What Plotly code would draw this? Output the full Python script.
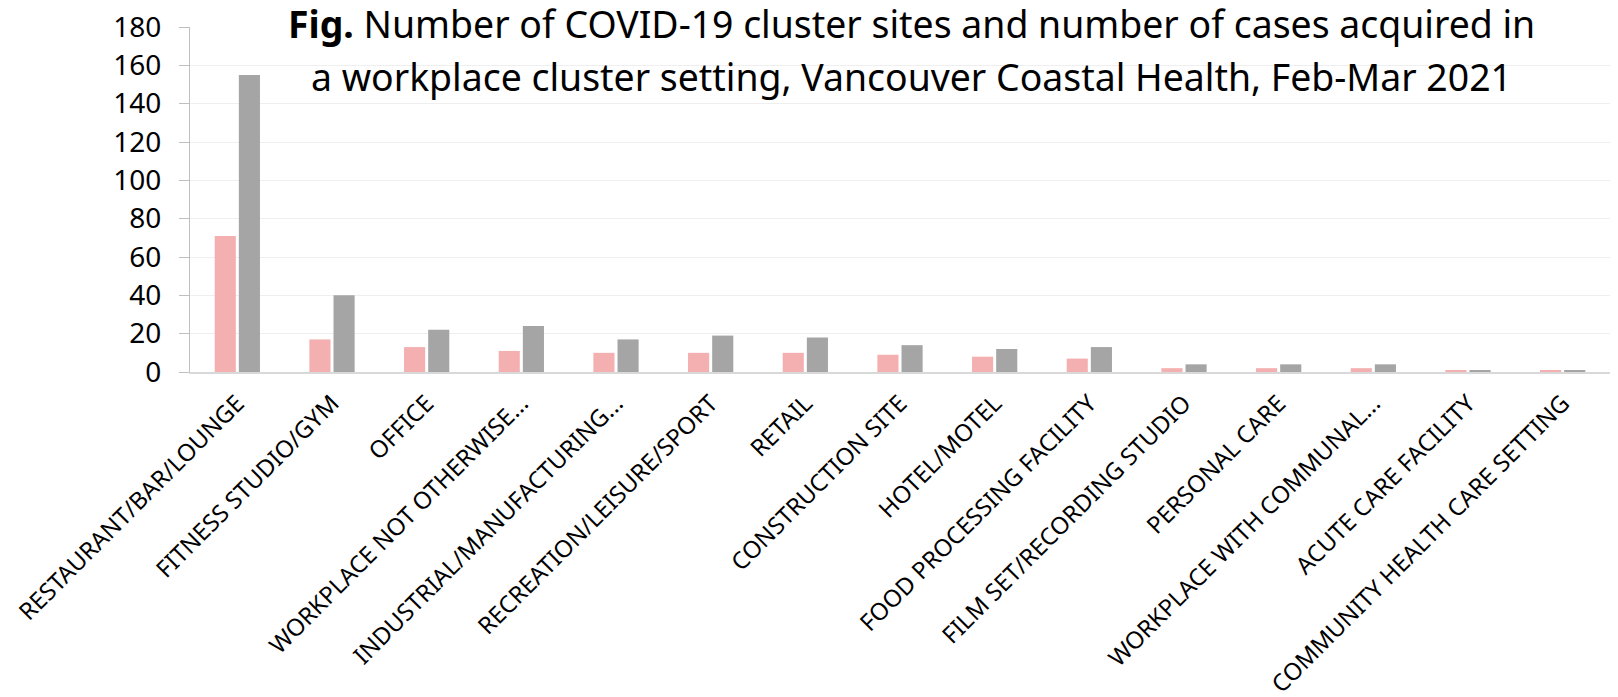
import plotly.graph_objects as go

categories = [
    "RESTAURANT/BAR/LOUNGE", "FITNESS STUDIO/GYM", "OFFICE", "WORKPLACE NOT OTHERWISE...",
    "INDUSTRIAL/MANUFACTURING...", "RECREATION/LEISURE/SPORT", "RETAIL", "CONSTRUCTION SITE",
    "HOTEL/MOTEL", "FOOD PROCESSING FACILITY", "FILM SET/RECORDING STUDIO", "PERSONAL CARE",
    "WORKPLACE WITH COMMUNAL...", "ACUTE CARE FACILITY", "COMMUNITY HEALTH CARE SETTING",
]
cluster_sites = [71, 17, 13, 11, 10, 10, 10, 9, 8, 7, 2, 2, 2, 1, 1]
cases = [155, 40, 22, 24, 17, 19, 18, 14, 12, 13, 4, 4, 4, 1, 1]
y_ticks = [0, 20, 40, 60, 80, 100, 120, 140, 160, 180]
title_lines = [
    "<b>Fig.</b> Number of COVID-19 cluster sites and number of cases acquired in",
    "a workplace cluster setting, Vancouver Coastal Health, Feb-Mar 2021",
]

FONT = "Noto Sans"

fig = go.Figure()
fig.add_trace(go.Bar(x=categories, y=cluster_sites, name="Number of cluster sites",
                     marker=dict(color="#f4b0b0", line=dict(width=0))))
fig.add_trace(go.Bar(x=categories, y=cases, name="Number of cases",
                     marker=dict(color="#a5a5a5", line=dict(width=0))))

title_shifts = [4, -49]
annotations = [
    dict(x=0.5084, y=1.0, xref="paper", yref="paper", xanchor="center", yanchor="middle",
         yshift=s, text=t, showarrow=False, align="center", borderpad=0,
         font=dict(size=37.4, family=FONT, color="black"))
    for t, s in zip(title_lines, title_shifts)
]

fig.update_layout(
    width=1618, height=697,
    margin=dict(l=182, r=16, t=19, b=333),
    paper_bgcolor="white", plot_bgcolor="white",
    barmode="group", bargap=0.49, bargroupgap=0.125,
    showlegend=False,
    font=dict(family=FONT, color="black"),
    xaxis=dict(
        tickangle=-45, tickfont=dict(size=23.8, family=FONT, color="black"),
        showline=True, linecolor="#d9d9d9", linewidth=2,
        ticks="", showgrid=False, ticklabelstandoff=6, automargin=False,
        ticklabeloverflow="allow",
    ),
    yaxis=dict(
        range=[0, 180], tickvals=y_ticks,
        tickfont=dict(size=28, family=FONT, color="black"),
        showgrid=True, gridcolor="#efefef", gridwidth=1,
        showline=True, linecolor="#bfbfbf", linewidth=1,
        ticks="outside", ticklen=10, tickcolor="#bfbfbf",
        zeroline=False, automargin=False, ticklabelstandoff=12,
        ticklabeloverflow="allow",
    ),
    annotations=annotations,
)

fig.write_html("out.html")
